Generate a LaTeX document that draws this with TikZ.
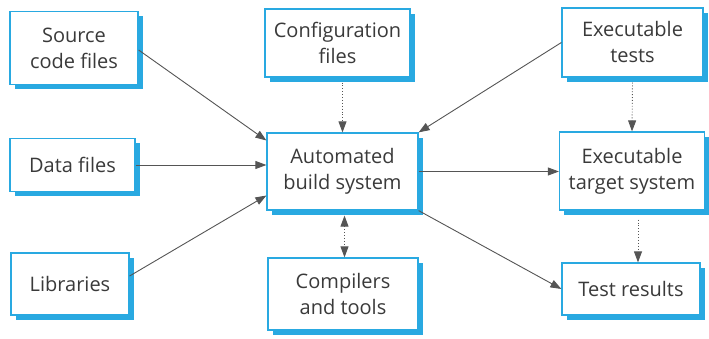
\documentclass[tikz,border=0pt]{standalone}
\usepackage{fontspec}
\setmainfont{Open Sans}
\usetikzlibrary{arrows.meta,shadows,calc}
\definecolor{boxblue}{HTML}{29A9E1}
\definecolor{txt}{HTML}{3A3A3A}
\definecolor{ln}{HTML}{555555}
\begin{document}
\begin{tikzpicture}[x=1pt,y=-1pt,
  box/.style={draw=boxblue,line width=1.2pt,fill=white,text=txt,align=center,
    font=\fontsize{20}{26}\selectfont,inner sep=0pt,
    drop shadow={shadow xshift=4.5pt,shadow yshift=-5pt,fill=boxblue,opacity=1}},
  conn/.style={draw=ln,line width=0.9pt,-{Triangle[length=11pt,width=8pt]}},
  dconn/.style={conn,dotted},
  ddconn/.style={draw=ln,line width=0.9pt,dotted,{Triangle[length=11pt,width=8pt]}-{Triangle[length=11pt,width=8pt]}}]
\useasboundingbox (0,0) rectangle (709,339);
\node[box,minimum width=128pt,minimum height=73pt] (src) at (74,48) {Source\\code files};
\node[box,minimum width=125pt,minimum height=53pt] (data) at (72.5,165) {Data files};
\node[box,minimum width=118pt,minimum height=62pt] (lib) at (70,284) {Libraries};
\node[box,minimum width=145pt,minimum height=68pt] (config) at (337.5,43) {Configuration\\files};
\node[box,minimum width=151pt,minimum height=77pt] (auto) at (342.5,171.5) {Automated\\build system};
\node[box,minimum width=150pt,minimum height=72pt] (comp) at (343,294) {Compilers\\and tools};
\node[box,minimum width=141pt,minimum height=69pt] (tests) at (632.5,42.5) {Executable\\tests};
\node[box,minimum width=145pt,minimum height=78pt] (target) at (632,171) {Executable\\target system};
\node[box,minimum width=138pt,minimum height=52pt] (results) at (631,289) {Test results};
\draw[conn] ([yshift=-2pt]src.east) -- ([yshift=31pt]auto.west);
\draw[conn] (data.east) -- (data.east -| auto.west);
\draw[conn] ([yshift=8pt]lib.east) -- ([yshift=-24pt]auto.west);
\draw[dconn] ([yshift=-5pt]auto.north |- config.south) -- (auto.north);
\draw[conn] (tests.west) -- (auto.north east);
\draw[conn] (auto.east) -- (auto.east -| target.west);
\draw[conn] (auto.south east) -- (results.west);
\draw[dconn] ([yshift=-5pt]tests.south) -- (target.north);
\draw[dconn] ([xshift=6pt,yshift=-9pt]target.south) -- ([xshift=6pt]target.south |- results.north);
\draw[ddconn] ([xshift=2pt,yshift=-5pt]auto.south) -- ([xshift=2pt]auto.south |- comp.north);
\end{tikzpicture}
\end{document}
